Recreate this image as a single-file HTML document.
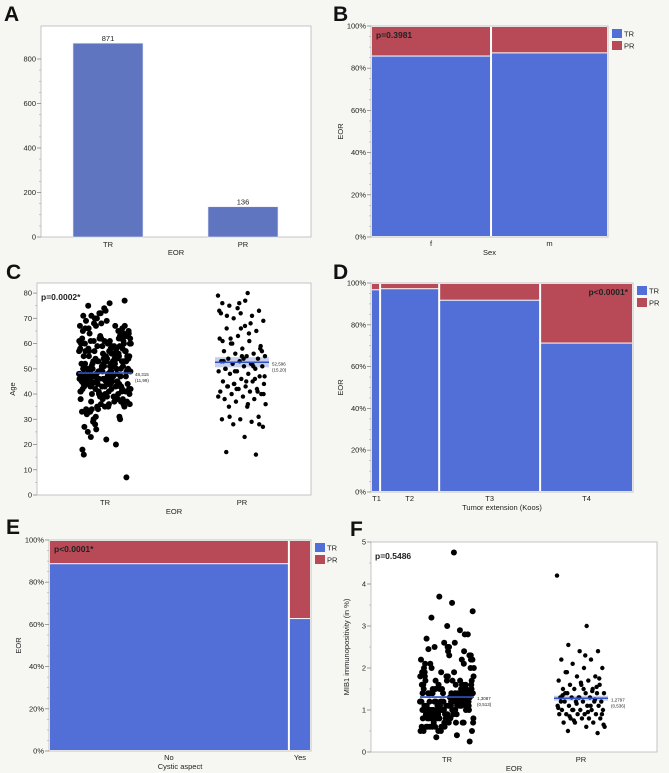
<!DOCTYPE html>
<html><head><meta charset="utf-8"><style>
body{margin:0;background:#f6f6f3;}
svg{display:block;font-family:"Liberation Sans",sans-serif;}
</style></head><body>
<svg id="fig" width="669" height="773" viewBox="0 0 669 773"></svg>
<script>
// ---------- DATA ----------
const barCategories=["TR","PR"];
const barCounts=[871,136];
const barTicks=[0,200,400,600,800];

const sexCategories=["f","m"];
const sexCounts=[510,497];
const sexTRFraction=[0.86,0.875];

const koosCategories=["T1","T2","T3","T4"];
const koosCounts=[35,227,388,357];
const koosTRFraction=[0.97,0.975,0.92,0.715];

const cysticCategories=["No","Yes"];
const cysticCounts=[922,85];
const cysticTRFraction=[0.89,0.63];

const pctTicks=[0,20,40,60,80,100];
const ageTicks=[0,10,20,30,40,50,60,70,80];
const mibTicks=[0,1,2,3,4,5];

const ageTR=[48,52,45,61,39,55,43,67,50,35,58,47,72,41,53,29,63,46,57,38,
44,60,51,33,66,49,42,56,70,37,54,46,31,62,48,59,40,53,74,27,
50,45,64,36,57,43,68,52,39,61,47,55,34,65,49,42,58,23,51,46,
71,38,54,44,60,48,30,63,41,56,50,67,35,52,45,59,40,76,47,53,
43,62,37,57,49,69,32,55,46,61,42,51,64,39,48,58,26,54,44,66,
50,36,60,47,53,41,73,45,56,34,62,49,43,58,38,65,52,28,55,46,
48,59,40,67,51,44,35,61,47,54,70,42,57,33,63,50,45,39,68,53,
22,46,56,41,60,49,37,64,52,44,58,31,55,48,75,43,62,38,51,47,
57,40,66,45,53,36,61,49,42,59,18,54,47,63,39,50,44,72,46,56,
34,60,51,43,58,48,65,41,55,37,62,46,52,30,57,45,69,40,53,49,
44,61,38,56,50,67,42,54,47,25,63,39,58,45,52,77,43,60,48,35,
55,46,64,41,51,33,59,47,7,53,44,62,40,57,49,71,36,54,16,20];
const agePR=[79,80,75,73,72,76,71,70,69,67,66,65,63,62,61,60,59,58,57,56,
56,55,55,54,54,53,53,52,52,51,51,50,50,49,49,48,48,47,46,45,
45,44,44,43,43,42,42,41,41,40,40,39,38,38,37,36,35,35,31,30,
30,29,28,27,23,17,16,74,73,64,62,58,55,53,51,49,47,45,43,41,
76,72,68,60,57,54,50,46,42,39,36,31,28,66,61,52,44,40,77,71];
const ageMeans=[48.315,52.596];
const ageMeanLabels=["48,315","52,596"];
const ageSdLabels=["(11,99)","(15,20)"];

const mibTR=[1.2,0.9,1.5,1.1,0.7,1.8,1.3,1.0,2.2,0.8,1.4,1.2,0.6,1.6,1.0,2.5,1.3,0.9,1.1,1.7,
0.8,1.4,1.0,2.0,1.2,0.7,1.5,1.1,0.9,1.3,2.3,1.0,1.6,0.6,1.2,1.9,0.8,1.4,1.1,1.0,
1.3,0.5,1.7,1.2,0.9,2.1,1.0,1.4,0.7,1.5,1.1,2.4,0.8,1.3,1.0,1.8,1.2,0.6,1.6,0.9,
1.1,1.4,0.8,2.0,1.3,1.0,0.7,1.5,1.2,2.6,0.9,1.1,1.7,0.6,1.4,1.0,2.2,1.2,0.8,1.3,
1.0,1.6,0.9,1.2,2.3,0.7,1.4,1.1,0.5,1.8,1.3,1.0,1.5,0.8,2.1,1.2,0.9,1.6,1.1,0.6,
1.4,1.0,1.9,1.2,0.8,1.3,2.5,0.9,1.1,1.5,0.7,1.7,1.0,1.3,0.6,2.0,1.2,0.9,1.4,1.1,
0.8,1.5,1.2,2.2,1.0,0.7,1.3,1.8,0.9,1.1,1.6,0.5,1.4,1.0,2.4,1.2,0.8,1.3,1.7,1.0,
1.1,0.6,1.5,1.2,2.0,0.9,1.4,1.0,0.7,1.9,1.3,1.1,2.3,0.8,1.2,1.6,1.0,0.6,1.4,1.2,
2.8,3.0,2.7,2.9,3.7,3.35,3.55,3.2,2.8,2.6,0.5,0.4,0.35,0.25,2.5,2.45,2.2,1.9,0.5,4.75,
1.0,1.3,0.8,1.7,1.2,0.9,1.5,1.1,2.1,0.7,1.4,1.0,1.6,0.6,1.2,1.8,0.9,1.3,1.1,0.8];
const mibPR=[4.2,3.0,2.55,2.4,2.4,2.2,2.2,2.1,2.0,2.0,1.9,1.8,1.8,1.7,1.7,1.6,1.6,1.6,1.5,1.5,
1.5,1.4,1.4,1.4,1.4,1.3,1.3,1.3,1.3,1.2,1.2,1.2,1.2,1.2,1.1,1.1,1.1,1.1,1.0,1.0,
1.0,1.0,1.0,0.9,0.9,0.9,0.9,0.9,0.8,0.8,0.8,0.8,0.7,0.7,0.7,0.6,0.6,0.5,0.45,1.3,
1.2,1.1,1.0,0.9,1.5,1.4,1.25,1.15,1.05,0.95,0.85,1.75,1.65,1.35,1.45,0.75,0.65,2.3,1.9,1.55];
const mibMeans=[1.3087,1.2797];
const mibMeanLabels=["1,3087","1,2797"];
const mibSdLabels=["(0,513)","(0,536)"];

// ---------- HELPERS ----------
const NS="http://www.w3.org/2000/svg";
const svg=document.getElementById('fig');
const BLUE="#516fd6",RED="#b84a57",BAR="#6075c0";
function mk(tag,attrs,parent,text){const e=document.createElementNS(NS,tag);for(const k in attrs)e.setAttribute(k,attrs[k]);if(text!==undefined)e.textContent=text;(parent||svg).appendChild(e);return e;}
function grp(name){const g=mk('g',{});return g;}
function txt(g,x,y,s,size,anchor,name,extra){const t=mk('text',Object.assign({x:x,y:y,'font-size':size,'text-anchor':anchor||'middle',fill:'#222'},extra||{}),g,s);return t;}
function frame(g,x0,y0,x1,y1){const r=mk('rect',{x:x0,y:y0,width:x1-x0,height:y1-y0,fill:'#fff',stroke:'#c4c4c4','stroke-width':1},g);}
function yAxis(g,x0,y0,y1,ticks,vmin,vmax,fmt,minor){
  const ys=v=>y1-(v-vmin)/(vmax-vmin)*(y1-y0);
  ticks.forEach(v=>{const y=ys(v);mk('line',{x1:x0-4,x2:x0,y1:y,y2:y,stroke:'#888','stroke-width':0.8},g);txt(g,x0-5,y+2.5,fmt(v),7.5,'end','y-tick-label');});
  if(minor){for(let i=0;i<ticks.length-1;i++){for(let k=1;k<minor;k++){const v=ticks[i]+(ticks[i+1]-ticks[i])*k/minor;const y=ys(v);mk('line',{x1:x0-2,x2:x0,y1:y,y2:y,stroke:'#aaa','stroke-width':0.6},g);}}}
  return ys;
}
function panelLabel(s,x,y){const t=mk('text',{x:x,y:y,'font-size':21,'font-weight':'bold',fill:'#111'},svg,s);}
function yTitle(g,x,y,s){txt(g,x,y,s,7.5,'middle','y-axis-title',{transform:`rotate(-90 ${x} ${y})`});}
function legend(g,x,y){
  [["TR",BLUE],["PR",RED]].forEach((d,i)=>{const r=mk('rect',{x:x,y:y+i*12,width:10,height:9,fill:d[1]},g);txt(g,x+12,y+i*12+7.5,d[0],7.5,'start','legend-label');});
}
function mosaic(name,x0,y0,x1,y1,cats,counts,frac,xtitle,ptext,px,panchor,legX){
  const g=grp(name);
  frame(g,x0,y0,x1,y1);
  const ys=yAxis(g,x0,y0,y1,pctTicks,0,100,v=>v+'%',4);
  const total=counts.reduce((a,b)=>a+b,0);
  let cx=x0;
  cats.forEach((c,i)=>{
    const w=counts[i]/total*(x1-x0);
    const yb=ys(frac[i]*100);
    const r1=mk('rect',{x:cx+1,y:yb+1,width:Math.max(w-2,0.5),height:y1-yb-2,fill:BLUE},g);
    const r2=mk('rect',{x:cx+1,y:y0+1,width:Math.max(w-2,0.5),height:yb-y0-1,fill:RED},g);
    let lx=cx+w/2; if(c==="T1")lx=cx+w/2+1;
    txt(g,lx,y1+9,c,7.5,'middle','x-tick-label');
    cx+=w;
  });
  txt(g,(x0+x1)/2,y1+18,xtitle,7.5,'middle','x-axis-title');
  yTitle(g,x0-28,(y0+y1)/2,'EOR');
  txt(g,px,y0+12,ptext,8.5,panchor,'p-value',{'font-weight':'bold'});
  legend(g,legX,y0+3);
}
function strip(name,x0,y0,x1,y1,ticks,vmax,centers,widths,groups,means,sems,mlab,slab,ytitle,ptext,xcats,radii){
  const g=grp(name);
  frame(g,x0,y0,x1,y1);
  const ys=yAxis(g,x0,y0,y1,ticks,0,vmax,v=>String(v),2);
  groups.forEach((vals,gi)=>{
    const band=mk('rect',{x:centers[gi]-27,y:ys(means[gi]+sems[gi]),width:54,height:ys(means[gi]-sems[gi])-ys(means[gi]+sems[gi]),fill:'#b8c3e6',opacity:0.8},g);
    
    vals.forEach((v,i)=>{const off=(((i*0.618034)%1)-0.5)*widths[gi];const c=mk('circle',{cx:centers[gi]+off,cy:ys(v),r:radii[gi],fill:'#000'},g);});
  });
  groups.forEach((vals,gi)=>{
    const ml=mk('line',{x1:centers[gi]-27,x2:centers[gi]+27,y1:ys(means[gi]),y2:ys(means[gi]),stroke:'#3152c4','stroke-width':1.6},g);
    txt(g,centers[gi]+30,ys(means[gi])+3,mlab[gi],4.5,'start','mean-label');
    txt(g,centers[gi]+30,ys(means[gi])+9,slab[gi],4.5,'start','sd-label');
    txt(g,centers[gi],y1+10,xcats[gi],7.5,'middle','x-tick-label');
  });
  txt(g,(x0+x1)/2,y1+19,'EOR',7.5,'middle','x-axis-title');
  yTitle(g,x0-22,(y0+y1)/2,ytitle);
  txt(g,x0+4,y0+17,ptext,8.5,'start','p-value',{'font-weight':'bold'});
}

// ---------- PANEL A ----------
panelLabel('A',4,21);
(function(){
  const g=grp('panel-a-bar-chart');
  const x0=41,y0=26,x1=311,y1=237;
  frame(g,x0,y0,x1,y1);
  const ys=yAxis(g,x0,y0,y1,barTicks,0,800*(y1-y0)/178,v=>String(v),4);
  const centers=[108,243];
  barCategories.forEach((c,i)=>{
    const r=mk('rect',{x:centers[i]-35,y:ys(barCounts[i]),width:70,height:y1-ys(barCounts[i]),fill:BAR,stroke:'#e6e9f4','stroke-width':0.6},g);
    
    txt(g,centers[i],ys(barCounts[i])-2,String(barCounts[i]),7.5,'middle','bar-value-label');
    txt(g,centers[i],y1+10,c,7.5,'middle','x-tick-label');
  });
  txt(g,(x0+x1)/2,y1+18,'EOR',7.5,'middle','x-axis-title');
})();

// ---------- PANEL B ----------
panelLabel('B',333,21);
mosaic('panel-b-mosaic-sex',371,26,608,237,sexCategories,sexCounts,sexTRFraction,'Sex','p=0.3981',376,'start',612);

// ---------- PANEL C ----------
panelLabel('C',6,279);
strip('panel-c-age-strip',37,283,311,495,ageTicks,84,[105,242],[52,48],[ageTR,agePR],ageMeans,[0.6,2.0],ageMeanLabels,ageSdLabels,'Age','p=0.0002*',["TR","PR"],[3.0,2.2]);

// ---------- PANEL D ----------
panelLabel('D',333,279);
mosaic('panel-d-mosaic-koos',371,283,633,492,koosCategories,koosCounts,koosTRFraction,'Tumor extension (Koos)','p<0.0001*',628,'end',637);

// ---------- PANEL E ----------
panelLabel('E',6,534);
mosaic('panel-e-mosaic-cystic',49,540,311,751,cysticCategories,cysticCounts,cysticTRFraction,'Cystic aspect','p<0.0001*',54,'start',315);

// ---------- PANEL F ----------
panelLabel('F',350,536);
strip('panel-f-mib1-strip',371,542,657,752,mibTicks,5,[447,581],[54,48],[mibTR,mibPR],mibMeans,[0.02,0.06],mibMeanLabels,mibSdLabels,'MIB1 immunopositivity (in %)','p=0.5486',["TR","PR"],[3.0,2.2]);
</script>
</body></html>
